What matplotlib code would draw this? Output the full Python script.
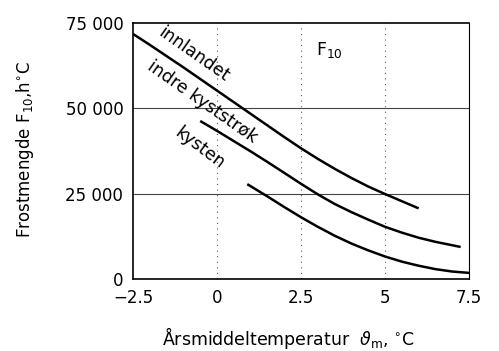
import matplotlib
matplotlib.use("Agg")
import matplotlib.pyplot as plt

# Frostmengde F10 (h°C) mot årsmiddeltemperatur (°C)
innlandet_t = [-2.5, -2, -1.5, -1, -0.5, 0, 0.5, 1, 1.5, 2, 2.5, 3, 3.5, 4, 4.5, 5, 5.5, 6]
innlandet_f = [71800, 68600, 65300, 62000, 58600, 55200, 51800, 48400, 45000, 41600,
               38300, 35200, 32300, 29600, 27100, 24900, 22800, 20700]

indre_t = [-0.5, 0, 0.5, 1, 1.5, 2, 2.5, 3, 3.5, 4, 4.5, 5, 5.5, 6, 6.5, 7, 7.25]
indre_f = [46300, 43400, 40400, 37400, 34300, 31100, 27900, 24800, 22000, 19600,
           17400, 15300, 13600, 12100, 10900, 9900, 9400]

kysten_t = [0.9, 1.5, 2, 2.5, 3, 3.5, 4, 4.5, 5, 5.5, 6, 6.5, 7, 7.5]
kysten_f = [27800, 24200, 21100, 18100, 15300, 12700, 10400, 8400, 6600, 5100,
            3900, 2900, 2200, 1800]

x_ticks = [-2.5, 0, 2.5, 5, 7.5]
x_labels = ["\u22122.5", "0", "2.5", "5", "7.5"]
y_ticks = [0, 25000, 50000, 75000]
y_labels = ["0", "25 000", "50 000", "75 000"]

fig = plt.figure(figsize=(4.99, 3.51), dpi=100)
ax = fig.add_axes([0.2665, 0.205, 0.6735, 0.7295])

for t, f in [(innlandet_t, innlandet_f), (indre_t, indre_f), (kysten_t, kysten_f)]:
    ax.plot(t, f, color="black", lw=1.8, solid_capstyle="butt", solid_joinstyle="round")

ax.set_xlim(-2.5, 7.5)
ax.set_ylim(0, 75000)
ax.set_xticks(x_ticks)
ax.set_xticklabels(x_labels)
ax.set_yticks(y_ticks)
ax.set_yticklabels(y_labels)
ax.tick_params(length=0, labelsize=12, pad=7)

# rutenett
for y in [25000, 50000]:
    ax.axhline(y, color="#444444", lw=0.8, zorder=0)
for x in [0, 2.5, 5]:
    ax.axvline(x, color="#555555", lw=0.8, ls=(0, (1, 4)), zorder=0)

ax.spines["top"].set_linewidth(1.2)
ax.spines["left"].set_linewidth(1.2)
ax.spines["bottom"].set_linewidth(1.2)
ax.spines["right"].set_linewidth(0.8)
ax.spines["right"].set_linestyle((0, (4, 1)))

ax.text(-0.7, 65900, "innlandet", rotation=-35, rotation_mode="anchor",
        ha="center", va="center", fontsize=12.5)
ax.text(-0.45, 51900, "indre kyststrøk", rotation=-35, rotation_mode="anchor",
        ha="center", va="center", fontsize=12.5)
ax.text(-0.5, 38400, "kysten", rotation=-37, rotation_mode="anchor",
        ha="center", va="center", fontsize=12.5)
ax.text(3.35, 67000, "F$_{10}$", ha="center", va="center", fontsize=12.5)

fig.text(0.05, 0.575, "Frostmengde F$_{10}$,h$^{\\circ}$C", rotation=90,
         ha="center", va="center", fontsize=12)
fig.text(0.578, 0.037, "Årsmiddeltemperatur  $\\vartheta_{\\rm m}$, $^{\\circ}$C",
         ha="center", va="center", fontsize=12.5)

fig.savefig("out.png", dpi=100)
